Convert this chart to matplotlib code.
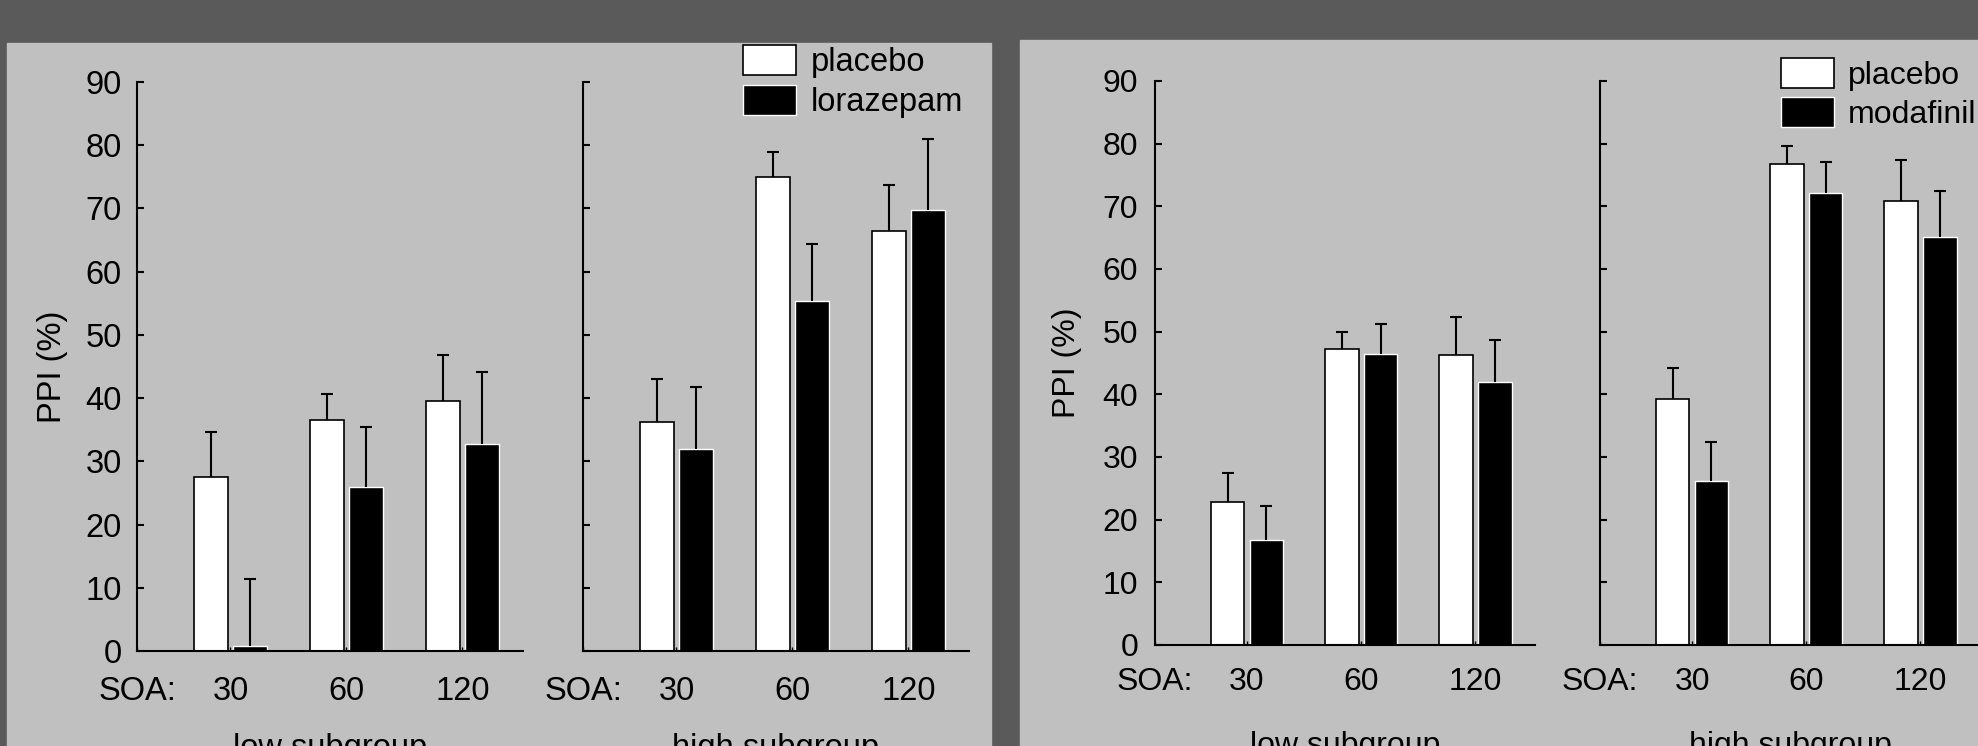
import numpy as np
import matplotlib
matplotlib.use("Agg")
import matplotlib.pyplot as plt
from matplotlib.patches import Rectangle

plt.rcParams['font.family'] = ['Liberation Sans', 'DejaVu Sans']

# ---------------- data ----------------
soa_labels = ['30', '60', '120']
subgroups = ['low subgroup', 'high subgroup']

# left study: placebo vs lorazepam
lor_placebo_low = [27.6, 36.6, 39.6]
lor_placebo_low_err = [34.7, 40.6, 46.8]      # upper end of error bar
lor_drug_low = [0.8, 26.0, 32.8]
lor_drug_low_err = [11.4, 35.4, 44.2]
lor_placebo_high = [36.3, 75.0, 66.5]
lor_placebo_high_err = [43.1, 78.9, 73.7]
lor_drug_high = [32.0, 55.4, 69.8]
lor_drug_high_err = [41.8, 64.4, 81.0]

# right study: placebo vs modafinil
mod_placebo_low = [22.8, 47.2, 46.2]
mod_placebo_low_err = [27.5, 50.0, 52.4]
mod_drug_low = [16.7, 46.5, 41.9]
mod_drug_low_err = [22.2, 51.3, 48.7]
mod_placebo_high = [39.2, 76.8, 70.8]
mod_placebo_high_err = [44.2, 79.7, 77.4]
mod_drug_high = [26.1, 72.1, 65.1]
mod_drug_high_err = [32.4, 77.0, 72.4]

y_ticks = [0, 10, 20, 30, 40, 50, 60, 70, 80, 90]

# ---------------- figure ----------------
W, H = 1978, 746
fig = plt.figure(figsize=(W / 100, H / 100), dpi=100, facecolor='#5a5a5a')

# slide panels
fig.add_artist(Rectangle((7 / W, 0), (991 - 7) / W, 1 - 43 / H,
                         transform=fig.transFigure, color='#c0c0c0', zorder=0))
fig.add_artist(Rectangle((1020 / W, 0), (W - 1020) / W, 1 - 40 / H,
                         transform=fig.transFigure, color='#c0c0c0', zorder=0))


def px_axes(x0, x1, ytop, ybot):
    ax = fig.add_axes([x0 / W, 1 - ybot / H, (x1 - x0) / W, (ybot - ytop) / H])
    ax.set_facecolor('none')
    return ax


XLIM = (-0.806, 2.522)
BW = 0.293
OFF = 0.17


def draw(ax, plac, plac_e, drug, drug_e, show_ylabels, fs, xpad, ypad):
    x = np.arange(len(soa_labels))
    b1 = ax.bar(x - OFF, plac, BW, color='white', edgecolor='black', linewidth=1.2, zorder=1)
    b2 = ax.bar(x + OFF, drug, BW, color='black', edgecolor='white', linewidth=1.0, zorder=1)
    for xs, v, e in ((x - OFF, plac, plac_e), (x + OFF, drug, drug_e)):
        v = np.array(v)
        e = np.array(e)
        cont = ax.errorbar(xs, v, yerr=[np.zeros_like(v), e - v], fmt='none', ecolor='black',
                           elinewidth=1.5, capsize=4, capthick=1.5, zorder=2)
        caps = cont[1]
        if len(caps) >= 2:
            caps[0].set_visible(False)   # no cap at the bar top
    ax.set_xlim(*XLIM)
    ax.set_ylim(0, 90)
    for s in ('top', 'right'):
        ax.spines[s].set_visible(False)
    for s in ('left', 'bottom'):
        ax.spines[s].set_linewidth(1.5)
        ax.spines[s].set_color('black')
    ax.set_yticks(y_ticks)
    ax.tick_params(axis='y', direction='in', length=5, width=1.5, labelsize=fs,
                   pad=ypad, labelleft=show_ylabels)
    ax.set_xticks([XLIM[0]] + list(x))
    ax.set_xticklabels(['SOA:'] + soa_labels)
    ax.tick_params(axis='x', direction='in', length=3, width=1.0, labelsize=fs, pad=xpad)
    return b1, b2


FS_L = 23.5
FS_R = 23

# left study axes
a1 = px_axes(137, 523, 82, 651)
a2 = px_axes(583, 969, 82, 651)
h1 = draw(a1, lor_placebo_low, lor_placebo_low_err, lor_drug_low, lor_drug_low_err, True, FS_L, 18, 11)
draw(a2, lor_placebo_high, lor_placebo_high_err, lor_drug_high, lor_drug_high_err, False, FS_L, 18, 11)

# right study axes
b1 = px_axes(1155, 1535, 81, 645)
b2 = px_axes(1600, 1980, 81, 645)
h2 = draw(b1, mod_placebo_low, mod_placebo_low_err, mod_drug_low, mod_drug_low_err, True, FS_R, 16, 12)
draw(b2, mod_placebo_high, mod_placebo_high_err, mod_drug_high, mod_drug_high_err, False, FS_R, 16, 12)

# y labels
fig.text(52 / W, 1 - 367 / H, 'PPI (%)', rotation=90, ha='center', va='center', fontsize=FS_L)
fig.text(1067 / W, 1 - 363 / H, 'PPI (%)', rotation=90, ha='center', va='center', fontsize=FS_R)

# subgroup labels (cut at bottom edge, as on the slide)
fig.text(330 / W, 1 - 733 / H, subgroups[0], ha='center', va='top', fontsize=FS_L)
fig.text(776 / W, 1 - 733 / H, subgroups[1], ha='center', va='top', fontsize=FS_L)
fig.text(1345 / W, 1 - 731 / H, subgroups[0], ha='center', va='top', fontsize=FS_R)
fig.text(1790 / W, 1 - 731 / H, subgroups[1], ha='center', va='top', fontsize=FS_R)

# legends
fig.legend(h1, ['placebo', 'lorazepam'], loc='upper left',
           bbox_to_anchor=(743 / W, 1 - 45 / H), frameon=False, borderpad=0,
           borderaxespad=0, handlelength=1.62, handleheight=1.05,
           handletextpad=0.45, labelspacing=0.2, fontsize=FS_L)
fig.legend(h2, ['placebo', 'modafinil'], loc='upper left',
           bbox_to_anchor=(1781 / W, 1 - 58 / H), frameon=False, borderpad=0,
           borderaxespad=0, handlelength=1.65, handleheight=1.05,
           handletextpad=0.45, labelspacing=0.2, fontsize=FS_R)

fig.savefig('out.png', dpi=100, facecolor=fig.get_facecolor())
